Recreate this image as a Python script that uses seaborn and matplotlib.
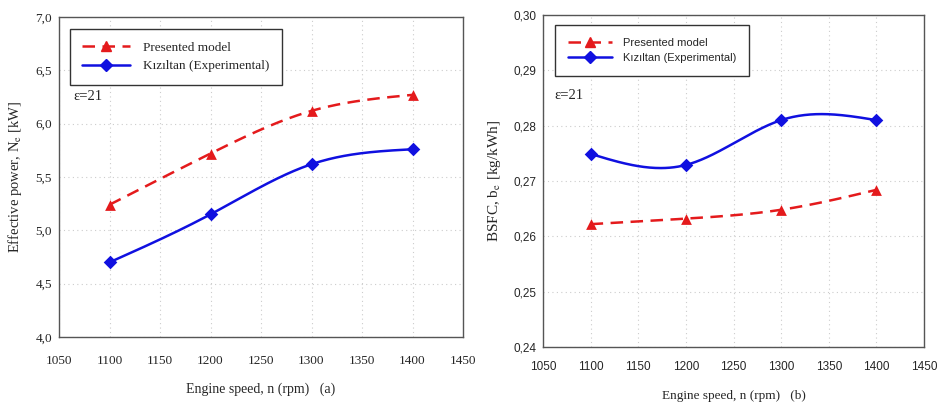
"""
Engine comparison: presented model vs Kiziltan experimental data.
Panel (a) effective power, panel (b) BSFC, both against engine speed.
"""

import numpy as np
import pandas as pd
import matplotlib
matplotlib.use("Agg")
import matplotlib.pyplot as plt
from matplotlib.lines import Line2D
from matplotlib.ticker import FuncFormatter, MultipleLocator
import seaborn as sns

# data
speed = [1100, 1200, 1300, 1400]
power_model = [5.24, 5.72, 6.12, 6.27]
power_exp = [4.70, 5.15, 5.62, 5.76]
bsfc_model = [0.2622, 0.2632, 0.2648, 0.2684]
bsfc_exp = [0.2749, 0.2729, 0.2810, 0.2810]

series_names = ["Presented model", "Kızıltan (Experimental)"]
RED = "#e41a1c"
BLUE = "#1010e0"

W, H = 938, 405


def natural_spline(x, y, n=200):
    """Smooth curve through the points (natural cubic spline), for drawing only."""
    x = np.asarray(x, float)
    y = np.asarray(y, float)
    k = len(x)
    h = np.diff(x)
    A = np.zeros((k, k))
    b = np.zeros(k)
    A[0, 0] = A[-1, -1] = 1.0
    for i in range(1, k - 1):
        A[i, i - 1] = h[i - 1]
        A[i, i] = 2 * (h[i - 1] + h[i])
        A[i, i + 1] = h[i]
        b[i] = 6 * ((y[i + 1] - y[i]) / h[i] - (y[i] - y[i - 1]) / h[i - 1])
    m = np.linalg.solve(A, b)
    xs = np.linspace(x[0], x[-1], n)
    idx = np.clip(np.searchsorted(x, xs) - 1, 0, k - 2)
    x0, x1 = x[idx], x[idx + 1]
    hh = x1 - x0
    t0, t1 = x1 - xs, xs - x0
    ys = (m[idx] * t0 ** 3 + m[idx + 1] * t1 ** 3) / (6 * hh) \
        + (y[idx] / hh - m[idx] * hh / 6) * t0 \
        + (y[idx + 1] / hh - m[idx + 1] * hh / 6) * t1
    return xs, ys


def draw_panel(ax, model, exp, ylim, ystep, decimals, ylabel, tag, cfg):
    # smooth curves
    for vals, color, dash in [(model, RED, (5, 3)), (exp, BLUE, "")]:
        xs, ys = natural_spline(speed, vals)
        curve = pd.DataFrame({"n": xs, "v": ys})
        sns.lineplot(data=curve, x="n", y="v", ax=ax, color=color, lw=1.8,
                     dashes=False, legend=False)
        if dash:
            ax.lines[-1].set_dashes(dash)

    pts = pd.DataFrame({"n": speed, "model": model, "exp": exp})
    sns.scatterplot(data=pts, x="n", y="model", ax=ax, marker="^", color=RED,
                    s=60, edgecolor=RED, linewidth=0, zorder=5, legend=False)
    sns.scatterplot(data=pts, x="n", y="exp", ax=ax, marker="D", color=BLUE,
                    s=48, edgecolor=BLUE, linewidth=0, zorder=5, legend=False)

    ax.set_xlim(1050, 1450)
    ax.set_ylim(*ylim)
    ax.xaxis.set_major_locator(MultipleLocator(50))
    ax.yaxis.set_major_locator(MultipleLocator(ystep))
    ax.yaxis.set_major_formatter(FuncFormatter(lambda v, p: f"{v:.{decimals}f}".replace(".", ",")))
    ax.grid(True, color="#cccccc", ls=(0, (1, 3)), lw=0.8)
    ax.set_axisbelow(True)
    for s in ax.spines.values():
        s.set_color("#555555")
        s.set_linewidth(1.0)
    ax.tick_params(direction="in", length=4, color="#444444", labelsize=cfg["tick_size"])
    ax.tick_params(axis="x", pad=cfg["xtick_pad"])
    ax.tick_params(axis="y", pad=5)
    for lab in ax.get_xticklabels() + ax.get_yticklabels():
        lab.set_fontfamily(cfg["tick_font"])

    ax.set_xlabel(f"Engine speed, n (rpm)   ({tag})", fontsize=cfg["xlab_size"],
                  family="Liberation Serif", labelpad=cfg["xlab_pad"])
    ax.set_ylabel(ylabel, fontsize=cfg["ylab_size"], family="Liberation Serif",
                  labelpad=cfg["ylab_pad"])

    handles = [
        Line2D([], [], color=RED, lw=1.8, dashes=(5, 3), marker="^", ms=7),
        Line2D([], [], color=BLUE, lw=1.8, marker="D", ms=6),
    ]
    leg = ax.legend(handles, series_names, loc="upper left", bbox_to_anchor=cfg["leg_anchor"],
                    frameon=True, fancybox=False, edgecolor="#333333", framealpha=1,
                    prop={"family": cfg["leg_font"], "size": cfg["leg_size"]},
                    handlelength=cfg["handlelength"], handletextpad=cfg["handletextpad"],
                    borderpad=cfg["borderpad"], labelspacing=0.5, borderaxespad=0)
    leg.get_frame().set_linewidth(1.0)
    ax.text(*cfg["eps_xy"], "ε=21", transform=ax.transAxes, fontsize=10.5,
            family="Liberation Serif", va="center")


sns.set_theme(style="white")
plt.rcParams["mathtext.fontset"] = "stix"
plt.rcParams["font.family"] = ["Liberation Serif", "DejaVu Sans"]

fig = plt.figure(figsize=(W / 100, H / 100), dpi=100)
ax1 = fig.add_axes([59 / W, 1 - 337 / H, (463 - 59) / W, (337 - 17) / H])
ax2 = fig.add_axes([543 / W, 1 - 347 / H, (924 - 543) / W, (347 - 15) / H])

left_cfg = dict(tick_font="Liberation Serif", tick_size=9.5, leg_font="Liberation Serif",
                leg_size=9.5, handlelength=3.6, handletextpad=1.0, borderpad=0.95,
                leg_anchor=(0.027, 0.963), eps_xy=(0.035, 0.753), xtick_pad=13,
                xlab_size=10, xlab_pad=11, ylab_size=10.5, ylab_pad=8)
right_cfg = dict(tick_font="Liberation Sans", tick_size=8.5, leg_font="Liberation Sans",
                 leg_size=8.0, handlelength=4.0, handletextpad=1.0, borderpad=1.15,
                 leg_anchor=(0.031, 0.97), eps_xy=(0.031, 0.759), xtick_pad=10,
                 xlab_size=9.5, xlab_pad=12, ylab_size=11, ylab_pad=7)

draw_panel(ax1, power_model, power_exp, (4.0, 7.0), 0.5, 1,
           r"Effective power, N$_\mathrm{e}$ [kW]", "a", left_cfg)
draw_panel(ax2, bsfc_model, bsfc_exp, (0.24, 0.30), 0.01, 2,
           r"BSFC, b$_\mathrm{e}$ [kg/kWh]", "b", right_cfg)

fig.savefig("out.png", dpi=100)
